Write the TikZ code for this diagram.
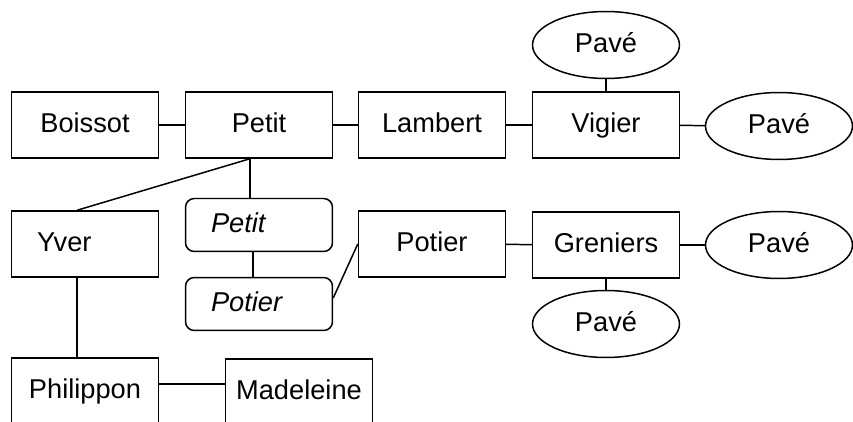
\documentclass[tikz,border=0pt]{standalone}
\usepackage{fontspec}
\setmainfont{Liberation Sans}
\usetikzlibrary{shapes.geometric, calc}

\begin{document}
\begin{tikzpicture}[
  x=0.02cm, y=-0.02cm,
  every node/.style={font=\fontsize{15.5}{18}\selectfont, text height=11pt, text depth=3pt},
  rbox/.style={rectangle, draw, line width=0.85pt, minimum width=2.94cm, minimum height=1.32cm, inner sep=0pt},
  lbox/.style={rbox, align=left, text width=1.92cm, inner xsep=0.5cm},
  ibox/.style={lbox, rounded corners=5pt, minimum height=1.06cm, font=\fontsize{15.5}{18}\selectfont\itshape},
  ebox/.style={ellipse, draw, line width=0.85pt, minimum width=2.94cm, minimum height=1.34cm, inner sep=0pt},
  link/.style={line width=0.85pt},
]
\clip (0,0) rectangle (853,422);

% Top row
\node[rbox] (boissot) at (85, 125) {Boissot};
\node[rbox] (petit) at (259, 125) {Petit};
\node[rbox] (lambert) at (432, 125) {Lambert};
\node[rbox] (vigier) at (606, 125) {Vigier};
\node[ebox] (pave1) at (606, 45) {Pavé};
\node[ebox] (pave2) at (779, 126) {Pavé};

% Middle row
\node[lbox] (yver) at (85, 244) {Yver};
\node[ibox] (petitit) at (259, 225) {Petit};
\node[ibox] (potierit) at (259, 304) {Potier};
\node[rbox] (potier) at (432, 244) {Potier};
\node[rbox] (greniers) at (606, 245) {Greniers};
\node[ebox] (pave3) at (779, 245) {Pavé};
\node[ebox] (pave4) at (606, 324) {Pavé};

% Bottom row (cut by the lower edge)
\node[rbox] (philippon) at (85, 391) {Philippon};
\node[rbox] (madeleine) at (299, 392) {Madeleine};

% Connections
\draw[link] (boissot) -- (petit);
\draw[link] (petit) -- (lambert);
\draw[link] (lambert) -- (vigier);
\draw[link] (vigier) -- (pave1);
\draw[link] (vigier) -- (pave2);
\draw[link] ($(petit.south)+(-9,0)$) -- ($(yver.north)+(-8,0)$);
\draw[link] ($(petit.south)+(-9,0)$) -- ($(petitit.north)+(-9,0)$);
\draw[link] ($(petitit.south)+(-6,0)$) -- ($(potierit.north)+(-6,0)$);
\draw[link] ($(potierit.east)+(0,-6)$) -- (potier.west);
\draw[link] (potier) -- (greniers);
\draw[link] (greniers) -- (pave3);
\draw[link] (greniers) -- (pave4);
\draw[link] ($(yver.south)+(-8,0)$) -- ($(philippon.north)+(-8,0)$);
\draw[link] ($(philippon.east)+(0,-7)$) -- ($(madeleine.west)+(0,-8)$);

\end{tikzpicture}
\end{document}
